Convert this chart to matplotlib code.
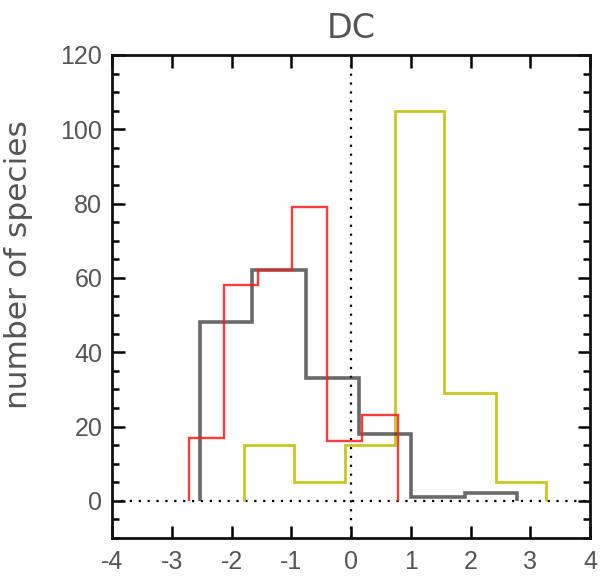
import matplotlib
matplotlib.use("Agg")
import matplotlib.pyplot as plt
from matplotlib.ticker import MultipleLocator

# Data
black_edges = [-2.53, -1.66, -0.76, 0.13, 1.01, 1.91, 2.77]
black_counts = [48, 62, 33, 18, 1, 2]
red_edges = [-2.72, -2.13, -1.56, -0.98, -0.40, 0.19, 0.78]
red_counts = [17, 58, 62, 79, 16, 23]
yellow_edges = [-1.79, -0.95, -0.10, 0.73, 1.56, 2.42, 3.26]
yellow_counts = [15, 5, 15, 105, 29, 5]

title = "DC"
ylabel = "number of species"
xticks = [-4, -3, -2, -1, 0, 1, 2, 3, 4]
yticks = [0, 20, 40, 60, 80, 100, 120]

plt.rcParams['font.family'] = ['DejaVu Sans']
plt.rcParams['axes.unicode_minus'] = False
text_color = '#555555'

fig = plt.figure(figsize=(6.01, 5.77), dpi=100)
ax = fig.add_axes([0.1864, 0.0676, 0.7953, 0.8371])

ax.stairs(yellow_counts, yellow_edges, baseline=0, color='#c8c820', lw=2)
ax.stairs(black_counts, black_edges, baseline=0, color='#2a2a2a', alpha=0.7, lw=2.6)
ax.stairs(red_counts, red_edges, baseline=0, color='#ff1a1a', alpha=0.85, lw=1.7)

ax.axhline(0, color='k', ls=(0, (1, 3)), lw=1.6, zorder=0)
ax.axvline(0, color='k', ls=(0, (1, 3)), lw=1.6, zorder=0)

ax.set_xlim(-4, 4)
ax.set_ylim(-10, 120)
ax.set_xticks(xticks)
ax.set_yticks(yticks)
ax.yaxis.set_minor_locator(MultipleLocator(5))
ax.tick_params(which='both', direction='in', top=True, right=True,
               colors='k', labelcolor=text_color, width=1.8)
ax.tick_params(which='major', length=9)
ax.tick_params(axis='x', which='major', pad=9)
ax.tick_params(axis='y', which='major', pad=7)
ax.tick_params(which='minor', length=5)
for lab in ax.get_xticklabels() + ax.get_yticklabels():
    lab.set_family(['Liberation Sans', 'DejaVu Sans'])
    lab.set_fontsize(18)
for s in ax.spines.values():
    s.set_linewidth(2)
    s.set_color('#111111')

ax.set_title(title, fontsize=24, color=text_color, pad=12)
ax.set_ylabel(ylabel, fontsize=22.5, color=text_color)
ax.yaxis.set_label_coords(-0.165, 0.567)

fig.savefig('out.png', dpi=100)
